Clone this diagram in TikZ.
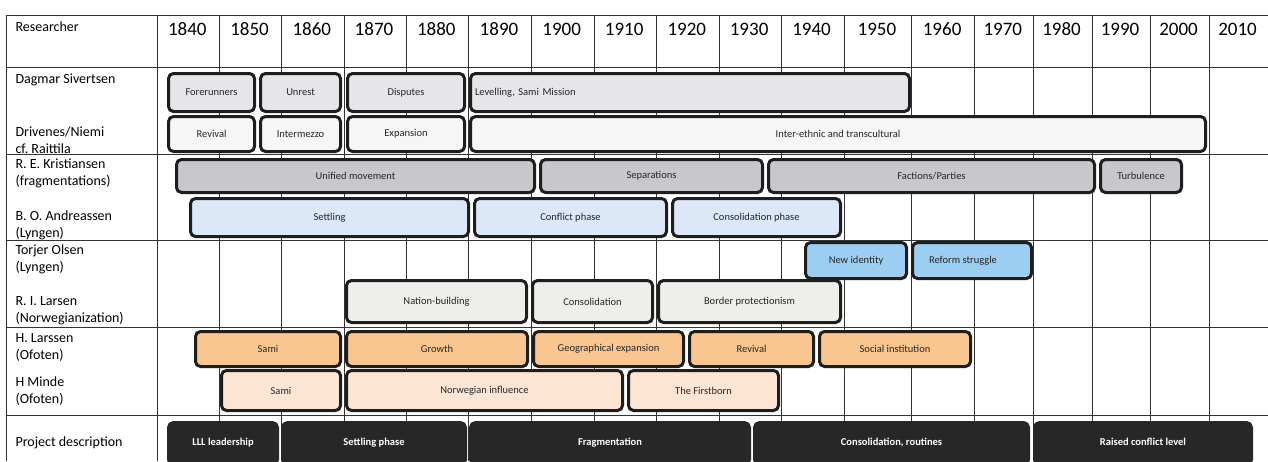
\documentclass[tikz,border=0pt]{standalone}
\usepackage{fontspec}
\setmainfont{Carlito}
\frenchspacing

\definecolor{dagmarfill}{HTML}{E6E6EA}
\definecolor{drivfill}{HTML}{F6F6F6}
\definecolor{kristfill}{HTML}{C8C8CC}
\definecolor{andrfill}{HTML}{DCE8F8}
\definecolor{torjfill}{HTML}{9CCEF2}
\definecolor{larsenfill}{HTML}{EEEEEA}
\definecolor{larssfill}{HTML}{F8C68E}
\definecolor{mindefill}{HTML}{FCE5D3}
\definecolor{projdark}{HTML}{272727}
\definecolor{boxline}{HTML}{1E1E1E}

\tikzset{
  grid line/.style={draw=black!80, line width=0.7pt},
  phasebox/.style={draw=boxline, line width=3pt, rounded corners=5pt,
    inner sep=2pt, text=black!85, font=\fontsize{10.5}{12}\selectfont},
  projbox/.style={phasebox, draw=projdark, fill=projdark, text=white,
    font=\fontsize{10.5}{12}\selectfont\bfseries},
  yearlabel/.style={font=\fontsize{19}{22}\selectfont},
  rowlabel/.style={anchor=west, align=left, font=\fontsize{14}{17}\selectfont},
}

% name, options, x1, x2, y1, y2, text
\newcommand{\phasebar}[7]{%
  \node[phasebox, minimum width={(#4-#3-3)*1pt},
    minimum height={(#6-#5-3)*1pt}, #2] (#1) at ({(#3+#4)/2},{(#5+#6)/2}) {#7};}

\begin{document}
\begin{tikzpicture}[x=1pt,y=-1pt]
 \clip (0,0) rectangle (1268,461);
 \fill[white] (0,0) rectangle (1268,461);
 % table grid
 \foreach \gx in {6,157,219.6,281.6,344,406,468.6,531.4,594,656.4,719.2,781,844,911.7,974.5,1033,1092,1150,1209}
  \draw[grid line] (\gx,15) -- (\gx,461);
 \foreach \gy in {15,67,154,240,327,415}
  \draw[grid line] (6,\gy) -- (1268,\gy);
 % header
 \node[rowlabel] (researcher) at (12,27) {Researcher};
 \foreach \yr/\cx in {1840/187.3,1850/249.6,1860/311.8,1870/374,1880/436.3,1890/499,
   1900/561.7,1910/624.2,1920/686.8,1930/749.1,1940/811.5,1950/876.9,1960/942.1,
   1970/1002.8,1980/1061.5,1990/1120,2000/1178.5,2010/1237.5}
  \node[yearlabel] (y\yr) at (\cx,29) {\yr};
 % researchers
 \node[rowlabel] (dagmar) at (12,80) {Dagmar Sivertsen};
 \node[rowlabel] (drivenes) at (12,140) {Drivenes/Niemi\\cf. Raittila};
 \node[rowlabel] (krist) at (12,173) {R. E. Kristiansen\\(fragmentations)};
 \node[rowlabel] (andreassen) at (12,225) {B. O. Andreassen\\(Lyngen)};
 \node[rowlabel] (torjer) at (12,259) {Torjer Olsen\\(Lyngen)};
 \node[rowlabel] (larsen) at (12,311) {R. I. Larsen\\(Norwegianization)};
 \node[rowlabel] (larssen) at (12,347) {H. Larssen\\(Ofoten)};
 \node[rowlabel] (minde) at (12,391) {H Minde\\(Ofoten)};
 \node[rowlabel] (project) at (12,443) {Project description};
 % Dagmar Sivertsen
 \phasebar{ds1}{fill=dagmarfill}{167}{256}{72}{113}{Forerunners}
 \phasebar{ds2}{fill=dagmarfill}{259}{342}{72}{113}{Unrest}
 \phasebar{ds3}{fill=dagmarfill}{346}{466}{72}{113}{Disputes}
 \phasebar{ds4}{fill=dagmarfill, text width=430pt, align=left, inner xsep=4pt}{469}{911}{72}{113}{Levelling, Sami Mission}
 % Drivenes/Niemi
 \phasebar{dn1}{fill=drivfill}{167}{256}{115}{153}{Revival}
 \phasebar{dn2}{fill=drivfill}{259}{342}{115}{153}{Intermezzo}
 \phasebar{dn3}{fill=drivfill}{346}{466}{115}{153}{Expansion}
 \phasebar{dn4}{fill=drivfill}{469}{1207}{115}{153}{Inter-ethnic and transcultural}
 % Kristiansen
 \phasebar{rk1}{fill=kristfill}{175}{536}{158}{194}{Unified movement}
 \phasebar{rk2}{fill=kristfill}{539}{764}{158}{194}{Separations}
 \phasebar{rk3}{fill=kristfill}{767}{1096}{158}{194}{Factions/Parties}
 \phasebar{rk4}{fill=kristfill}{1099}{1183}{158}{194}{Turbulence}
 % Andreassen
 \phasebar{ba1}{fill=andrfill}{189}{470}{197}{238}{Settling}
 \phasebar{ba2}{fill=andrfill}{473}{668}{197}{238}{Conflict phase}
 \phasebar{ba3}{fill=andrfill}{671}{842}{197}{238}{Consolidation phase}
 % Torjer Olsen
 \phasebar{to1}{fill=torjfill}{804}{908}{241}{280}{New identity}
 \phasebar{to2}{fill=torjfill}{911}{1033}{241}{280}{\hspace*{-18pt}Reform struggle}
 % R. I. Larsen
 \phasebar{ri1}{fill=larsenfill}{345}{528}{279}{324}{Nation-building}
 \phasebar{ri2}{fill=larsenfill}{531}{654}{279}{324}{Consolidation}
 \phasebar{ri3}{fill=larsenfill}{657}{842}{279}{324}{Border protectionism}
 % H. Larssen
 \phasebar{hl1}{fill=larssfill}{194}{342}{330}{368}{Sami}
 \phasebar{hl2}{fill=larssfill}{345}{529}{330}{368}{Growth}
 \phasebar{hl3}{fill=larssfill}{532}{685}{330}{368}{Geographical expansion}
 \phasebar{hl4}{fill=larssfill}{688}{815}{330}{368}{Revival}
 \phasebar{hl5}{fill=larssfill}{818}{972}{330}{368}{Social institution}
 % H Minde
 \phasebar{hm1}{fill=mindefill}{220}{342}{369}{412}{Sami}
 \phasebar{hm2}{fill=mindefill}{345}{624}{369}{412}{Norwegian influence}
 \phasebar{hm3}{fill=mindefill}{627}{780}{369}{412}{The Firstborn}
 % project description
 \phasebar{pd1}{projbox}{167}{279}{421}{466}{\raisebox{3pt}{LLL leadership}}
 \phasebar{pd2}{projbox}{281}{467}{421}{466}{\raisebox{3pt}{Settling phase}}
 \phasebar{pd3}{projbox}{469}{751}{421}{466}{\raisebox{3pt}{Fragmentation}}
 \phasebar{pd4}{projbox}{753}{1030}{421}{466}{\raisebox{3pt}{Consolidation, routines}}
 \phasebar{pd5}{projbox}{1033}{1253}{421}{466}{\raisebox{3pt}{Raised conflict level}}
\end{tikzpicture}
\end{document}
